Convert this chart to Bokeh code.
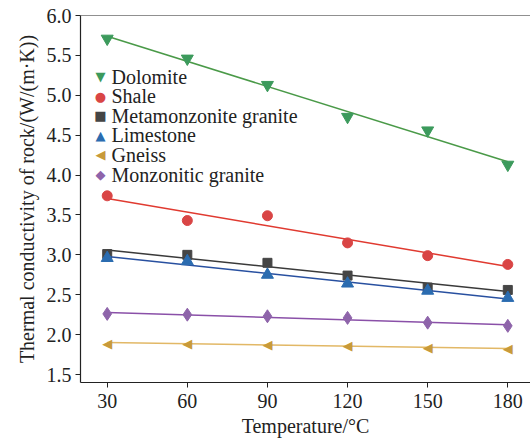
import numpy as np
from bokeh.plotting import figure
from bokeh.models import Span, FixedTicker, CustomJSTickFormatter, Label
from bokeh.core.properties import value
from bokeh.embed import file_html
from bokeh.resources import INLINE

temps = [30, 60, 90, 120, 150, 180]
dolomite = [5.71, 5.46, 5.13, 4.73, 4.56, 4.13]
shale = [3.74, 3.43, 3.49, 3.15, 2.99, 2.88]
metamonzonite = [3.01, 3.00, 2.90, 2.74, 2.59, 2.56]
limestone = [2.96, 2.92, 2.75, 2.64, 2.55, 2.46]
gneiss = [1.89, 1.89, 1.88, 1.86, 1.84, 1.82]
monzonitic = [2.26, 2.25, 2.23, 2.21, 2.15, 2.11]
yticks = [1.5, 2.0, 2.5, 3.0, 3.5, 4.0, 4.5, 5.0, 5.5, 6.0]

series = [
    ("Dolomite", dolomite, "inverted_triangle", "#3c9a5c", "#4a9a48", 12),
    ("Shale", shale, "circle", "#d94545", "#e03a30", 10),
    ("Metamonzonite granite", metamonzonite, "square", "#454545", "#3a3a3a", 9),
    ("Limestone", limestone, "triangle", "#2b6cb0", "#2850a0", 12),
    ("Gneiss", gneiss, "left", "#c89a3a", "#e2b866", 12),
    ("Monzonitic granite", monzonitic, "diamond", "#8e64aa", "#8a50a8", 13),
]
glyph_chars = ["\u25bc", "\u25cf", "\u25a0", "\u25b2", "\u25c0", "\u25c6"]
FONT = "Liberation Serif"

p = figure(width=530, height=439, output_backend="svg", toolbar_location=None,
           x_range=(20, 188.5), y_range=(1.4, 6.0),
           min_border_left=80, min_border_right=0, min_border_top=15, min_border_bottom=57)
p.outline_line_color = None
p.grid.visible = False
p.background_fill_color = "white"

for i, (name, vals, marker, mcol, lcol, size) in enumerate(series):
    k, b = np.polyfit(temps, vals, 1)
    xs = [temps[0], temps[-1]]
    p.line(xs, [k * x + b for x in xs], line_color=lcol, line_width=1.5)
    if marker == "left":
        p.text(temps, vals, text=["\u25c0"] * len(temps), text_color=mcol,
               text_font=value("DejaVu Sans"), text_font_size="13px",
               text_align="center", text_baseline="middle")
    else:
        p.scatter(temps, vals, marker=marker, size=size, fill_color=mcol, line_color=mcol)

# legend drawn as labels in screen units (relative to frame)
for i, (name, vals, marker, mcol, lcol, size) in enumerate(series):
    sy = 306 - i * 19.6
    p.add_layout(Label(x=20, y=sy, x_units="screen", y_units="screen", text=glyph_chars[i],
                       text_color=mcol, text_font="DejaVu Sans", text_font_size="13px",
                       text_align="center", text_baseline="middle"))
    p.add_layout(Label(x=31, y=sy, x_units="screen", y_units="screen", text=name,
                       text_color="#222222", text_font=FONT, text_font_size="20px",
                       text_align="left", text_baseline="middle"))

p.add_layout(Span(location=6.0, dimension="width", line_color="#222222", line_width=1.2))

p.xaxis.ticker = FixedTicker(ticks=temps)
p.yaxis.ticker = FixedTicker(ticks=yticks)
p.yaxis.formatter = CustomJSTickFormatter(code="return tick.toFixed(1);")

for ax in (p.xaxis[0], p.yaxis[0]):
    ax.axis_line_color = "#222222"
    ax.axis_line_width = 1.2
    ax.major_tick_line_color = "#222222"
    ax.major_tick_in = 0
    ax.major_tick_out = 5
    ax.minor_tick_line_color = None
    ax.major_label_text_font = FONT
    ax.major_label_text_font_size = "20px"
    ax.major_label_text_color = "#222222"
    ax.axis_label_text_font = FONT
    ax.axis_label_text_font_size = "20px"
    ax.axis_label_text_font_style = "normal"
    ax.axis_label_text_color = "#222222"

p.xaxis.axis_label = "Temperature/°C"
p.yaxis.axis_label = "Thermal conductivity of rock/(W/(m·K))"
p.xaxis.major_label_standoff = 6
p.xaxis.axis_label_standoff = 4
p.yaxis.major_label_standoff = 4
p.yaxis.axis_label_standoff = 6

open("out.html", "w").write(file_html(p, INLINE))
